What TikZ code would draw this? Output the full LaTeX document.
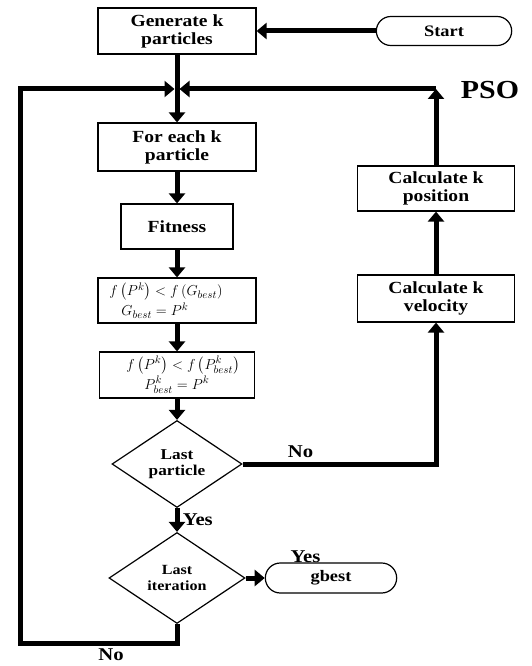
\documentclass[tikz,border=0pt]{standalone}
\usepackage{amsmath}
\usepackage{fontspec}
\setmainfont{Liberation Serif}[FakeStretch=1.15]
\usetikzlibrary{arrows.meta, positioning, shapes.geometric, shapes.misc}

\begin{document}
\begin{tikzpicture}[x=1pt,y=-1pt,node distance=2cm,>={Triangle[width=16pt,length=10pt]}]
  \tikzstyle{block}=[draw,line width=1.2pt,align=center,minimum width=158pt,minimum height=46pt,inner sep=2pt,font=\bfseries\fontsize{17}{18}\selectfont]
  \tikzstyle{mathblock}=[block,font=\fontsize{15}{21}\selectfont]
  \tikzstyle{decision}=[draw,diamond,aspect=1.5,line width=1.2pt,align=center,inner sep=0pt,minimum width=130pt,minimum height=87pt,font=\bfseries\fontsize{15}{16}\selectfont]
  \tikzstyle{terminal}=[draw,rounded rectangle,line width=1.2pt,minimum width=142pt,minimum height=29pt,font=\bfseries\fontsize{16}{16}\selectfont]
  \tikzstyle{lbl}=[font=\bfseries\fontsize{18}{18}\selectfont]
  \tikzstyle{flow}=[->,line width=5pt]

  \useasboundingbox (0,0) rectangle (531,666);

  \node[block]                         (gen)   at (177,31)                             {Generate k\\particles};
  \node[terminal]                      (start) [right of=gen,node distance=267pt]      {Start};
  \node[block,minimum height=48pt]     (for)   [below of=gen,node distance=116pt]      {For each k\\particle};
  \node[block,minimum width=112pt,minimum height=45pt] (fit) [below of=for,node distance=79.5pt] {Fitness};
  \node[mathblock,minimum height=45pt] (fg)    [below of=fit,node distance=74pt]
    {$f\left(P^k\right) < f\left(G_{best}\right)$\hspace*{22pt}\\[-1pt]$G_{best} = P^k$\hspace*{44pt}};
  \node[mathblock,minimum width=155pt] (fp)    [below of=fg,node distance=74.5pt]
    {\hspace*{12pt}$f\left(P^k\right) < f\left(P^k_{best}\right)$\\[-1pt]$P^k_{best} = P^k$};
  \node[decision]                      (lp)    [below of=fp,node distance=89pt]        {Last\\particle};
  \node[decision,minimum width=136pt,minimum height=91pt,font=\bfseries\fontsize{14}{16}\selectfont]
                                       (li)    [below of=lp,node distance=114pt]       {Last\\iteration};
  \node[terminal,minimum width=138pt,minimum height=30pt] (gb) [right of=li,node distance=154pt] {gbest};
  \node[block,minimum width=157pt,minimum height=47pt] (vel) at (436,298.5)              {Calculate k\\velocity};
  \node[block,minimum width=157pt,minimum height=45pt] (pos) [above of=vel,node distance=110pt] {Calculate k\\position};
  \node[font=\bfseries\fontsize{26}{26}\selectfont] (pso) at (490,90)                   {PSO};

  \coordinate (jn) at (177,89);
  \coordinate (bl) at (20,643);

  \path[flow]
  (start) edge (gen)
  (gen)   edge (for)
  (for)   edge (fit)
  (fit)   edge (fg)
  (fg)    edge (fp)
  (fp)    edge (lp)
  (lp)    edge node[lbl,right] {Yes} (li)
  (li)    edge (gb)
  (vel)   edge (pos)
  ;

  \draw[flow] (lp.east) -| node[lbl,pos=0.15,above] {No} (vel.south);
  \draw[flow] (pos.north) -- (pos.north |- jn);
  \draw[flow,shorten >=2.5pt] (pos.north |- jn) -- (jn);
  \draw[flow,shorten >=2.5pt] (li.south) |- node[lbl,pos=0.71,below] {No} (bl) |- (jn);
  \node[lbl,anchor=south west,inner sep=0pt,xshift=10pt] (yes) at (gb.north west) {Yes};
\end{tikzpicture}
\end{document}
